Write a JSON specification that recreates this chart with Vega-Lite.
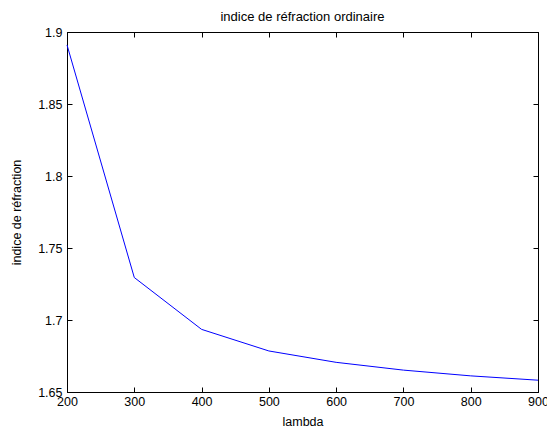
{
  "$schema": "https://vega.github.io/schema/vega-lite/v6.json",
  "width": 471,
  "height": 360,
  "autosize": "none",
  "padding": {"left": 67, "top": 32, "right": 9, "bottom": 42},
  "background": "white",
  "title": {
    "text": "indice de réfraction ordinaire",
    "font": "Liberation Sans",
    "fontSize": 13,
    "fontWeight": "normal",
    "color": "black",
    "offset": 2
  },
  "config": {
    "view": {"stroke": "black", "strokeWidth": 1},
    "axis": {
      "domainColor": "black",
      "tickColor": "black",
      "labelColor": "black",
      "titleColor": "black",
      "labelFont": "Liberation Sans",
      "titleFont": "Liberation Sans",
      "labelFontSize": 12.5,
      "titleFontSize": 12.5,
      "titleFontWeight": "normal",
      "grid": false,
      "tickSize": -5
    }
  },
  "data": {
    "values": [
      {"lambda": 200, "n": 1.891},
      {"lambda": 300, "n": 1.7295},
      {"lambda": 400, "n": 1.6935},
      {"lambda": 500, "n": 1.6785},
      {"lambda": 600, "n": 1.6706},
      {"lambda": 700, "n": 1.6652},
      {"lambda": 800, "n": 1.6612},
      {"lambda": 900, "n": 1.6582}
    ]
  },
  "layer": [
    {
      "mark": {"type": "line", "color": "#0000ff", "strokeWidth": 1},
      "encoding": {
        "x": {
          "field": "lambda", "type": "quantitative",
          "scale": {"domain": [200, 900], "nice": false, "zero": false},
          "axis": {"title": "lambda", "values": [200, 300, 400, 500, 600, 700, 800, 900], "labelPadding": 8, "titlePadding": 8, "labelFlush": false, "labelOverlap": false}
        },
        "y": {
          "field": "n", "type": "quantitative",
          "scale": {"domain": [1.65, 1.9], "nice": false, "zero": false},
          "axis": {"title": "indice de réfraction", "values": [1.65, 1.7, 1.75, 1.8, 1.85, 1.9], "format": ".2~f", "labelPadding": 10, "titlePadding": 14, "labelFlush": false, "labelOverlap": false}
        }
      }
    },
    {
      "mark": {"type": "line", "opacity": 0},
      "encoding": {
        "x": {
          "field": "lambda", "type": "quantitative",
          "axis": {"orient": "top", "title": null, "labels": false, "values": [200, 300, 400, 500, 600, 700, 800, 900]}
        },
        "y": {
          "field": "n", "type": "quantitative",
          "axis": {"orient": "right", "title": null, "labels": false, "values": [1.65, 1.7, 1.75, 1.8, 1.85, 1.9]}
        }
      }
    }
  ],
  "resolve": {"axis": {"x": "independent", "y": "independent"}}
}
